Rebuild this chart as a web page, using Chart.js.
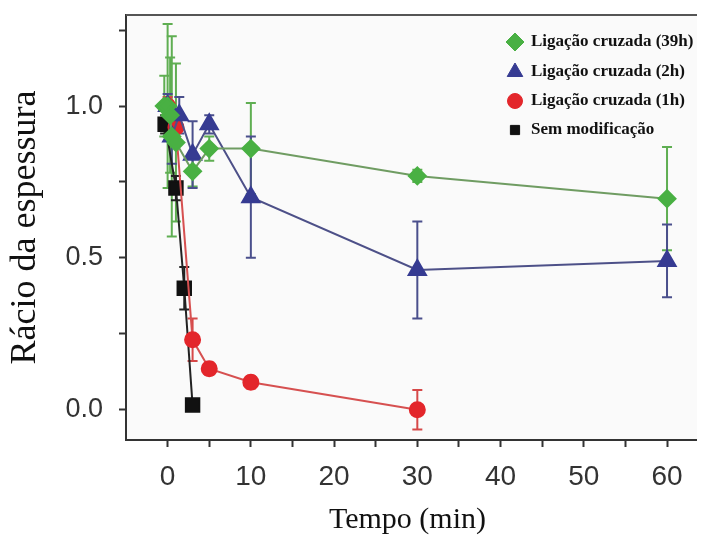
<!DOCTYPE html>
<html>
<head>
<meta charset="utf-8">
<script src="https://cdn.jsdelivr.net/npm/chart.js@4"></script>
<style>
  html, body { margin: 0; padding: 0; background: #ffffff; }
  canvas { display: block; }
</style>
</head>
<body>
<canvas id="chart" width="701" height="538"></canvas>
<script>
// Dados
const seriesLabels = ["Ligação cruzada (39h)", "Ligação cruzada (2h)", "Ligação cruzada (1h)", "Sem modificação"];

const greenX = [-0.4, 0, 0.3, 0.5, 1, 3, 5, 10, 30, 60];
const greenY = [1.0, 1.0, 0.97, 0.9, 0.88, 0.785, 0.86, 0.86, 0.77, 0.695];
const greenErr = [0.1, 0.27, 0.19, 0.33, 0.26, 0.05, 0.04, 0.15, 0.02, 0.17];

const blueX = [0, 0.5, 1.4, 3, 5, 10, 30, 60];
const blueY = [1.0, 0.9, 0.97, 0.84, 0.94, 0.7, 0.46, 0.49];
const blueErr = [0.04, 0.09, 0.06, 0.11, 0.03, 0.2, 0.16, 0.12];

const redX = [0, 1, 3, 5, 10, 30];
const redY = [1.0, 0.93, 0.23, 0.135, 0.09, 0.0];
const redErr = [0.03, 0.05, 0.07, 0.02, 0.02, 0.065];

const blackX = [-0.3, 1, 2, 3];
const blackY = [0.94, 0.73, 0.4, 0.015];
const blackErr = [0.03, 0.04, 0.07, 0.0];

const xTickValues = [0, 5, 10, 15, 20, 25, 30, 35, 40, 45, 50, 55, 60];
const xTickLabels = ["0", "", "10", "", "20", "", "30", "", "40", "", "50", "", "60"];
const yTickValues = [0, 0.25, 0.5, 0.75, 1.0, 1.25];
const yTickLabels = ["0.0", "", "0.5", "", "1.0", ""];

function toPoints(xs, ys) {
  return xs.map((x, i) => ({ x: x, y: ys[i] }));
}

function tickLabel(values, labels, v) {
  const i = values.findIndex((t) => Math.abs(t - v) < 1e-6);
  return i >= 0 ? labels[i] : "";
}

// fundo da área do gráfico, moldura superior e prolongamento do eixo x
const framePlugin = {
  id: "frame",
  beforeDraw(chart) {
    const { ctx, chartArea } = chart;
    ctx.save();
    ctx.fillStyle = "#fafafa";
    ctx.fillRect(chartArea.left, chartArea.top, chart.width - 4 - chartArea.left, chartArea.bottom - chartArea.top);
    ctx.restore();
  },
  afterDraw(chart) {
    const { ctx, chartArea } = chart;
    const edge = chart.width - 4;
    ctx.save();
    ctx.lineWidth = 2;
    ctx.strokeStyle = "#555555";
    ctx.beginPath();
    ctx.moveTo(chartArea.left, chartArea.top);
    ctx.lineTo(edge, chartArea.top);
    ctx.stroke();
    ctx.strokeStyle = "#333333";
    ctx.beginPath();
    ctx.moveTo(chartArea.right - 1, chartArea.bottom);
    ctx.lineTo(edge, chartArea.bottom);
    ctx.stroke();
    ctx.restore();
  },
};

// barras de erro
const errorBarPlugin = {
  id: "errorBars",
  beforeDatasetsDraw(chart) {
    const { ctx, scales } = chart;
    ctx.save();
    chart.data.datasets.forEach((ds) => {
      ctx.strokeStyle = ds.errorColor;
      ctx.lineWidth = 2;
      ds.data.forEach((p, i) => {
        const e = ds.errors[i];
        if (!e) return;
        const px = scales.x.getPixelForValue(p.x);
        const top = scales.y.getPixelForValue(p.y + e);
        const bot = scales.y.getPixelForValue(p.y - e);
        ctx.beginPath();
        ctx.moveTo(px, top);
        ctx.lineTo(px, bot);
        ctx.moveTo(px - 5, top);
        ctx.lineTo(px + 5, top);
        ctx.moveTo(px - 5, bot);
        ctx.lineTo(px + 5, bot);
        ctx.stroke();
      });
    });
    ctx.restore();
  },
};

// legenda dentro da área do gráfico
const insideLegendPlugin = {
  id: "insideLegend",
  afterDraw(chart) {
    const { ctx } = chart;
    const rows = [42, 72, 101, 130];
    ctx.save();
    chart.data.datasets.forEach((ds, i) => {
      const y = rows[i];
      ctx.fillStyle = ds.pointBackgroundColor;
      ctx.strokeStyle = ds.pointBorderColor;
      ctx.lineWidth = 1;
      Chart.helpers.drawPoint(ctx, {
        pointStyle: ds.pointStyle,
        radius: ds.legendRadius,
        rotation: 0,
        borderWidth: 1,
      }, 515, y);
      ctx.fillStyle = "#111111";
      ctx.font = "bold 17px 'Liberation Serif', 'Times New Roman', serif";
      ctx.textAlign = "left";
      ctx.textBaseline = "middle";
      ctx.fillText(ds.label, 531, y);
    });
    ctx.restore();
  },
};

const ctx = document.getElementById("chart").getContext("2d");
new Chart(ctx, {
  type: "line",
  data: {
    datasets: [
      {
        label: seriesLabels[0],
        data: toPoints(greenX, greenY),
        errors: greenErr,
        errorColor: "#5fae52",
        borderColor: "#6f9c62",
        borderWidth: 2,
        pointStyle: "rectRot",
        pointRadius: 8.5,
        legendRadius: 9,
        pointBackgroundColor: "#49b043",
        pointBorderColor: "#49b043",
      },
      {
        label: seriesLabels[1],
        data: toPoints(blueX, blueY),
        errors: blueErr,
        errorColor: "#4a4f8c",
        borderColor: "#4d5088",
        borderWidth: 2,
        pointStyle: "triangle",
        pointRadius: 10,
        legendRadius: 9,
        pointBackgroundColor: "#363b92",
        pointBorderColor: "#363b92",
      },
      {
        label: seriesLabels[2],
        data: toPoints(redX, redY),
        errors: redErr,
        errorColor: "#d64848",
        borderColor: "#d65050",
        borderWidth: 2,
        pointStyle: "circle",
        pointRadius: 7.5,
        legendRadius: 7.5,
        pointBackgroundColor: "#e3262b",
        pointBorderColor: "#e3262b",
      },
      {
        label: seriesLabels[3],
        data: toPoints(blackX, blackY),
        errors: blackErr,
        errorColor: "#222222",
        borderColor: "#222222",
        borderWidth: 2,
        pointStyle: "rect",
        pointRadius: 9.5,
        legendRadius: 6.5,
        pointBackgroundColor: "#111111",
        pointBorderColor: "#111111",
      },
    ],
  },
  options: {
    responsive: false,
    animation: false,
    devicePixelRatio: 1,
    layout: { padding: { left: 0, top: 15, right: 4, bottom: 0 } },
    plugins: {
      legend: { display: false },
      tooltip: { enabled: false },
    },
    scales: {
      x: {
        type: "linear",
        min: -5,
        max: 62.64,
        afterBuildTicks: (scale) => {
          scale.ticks = xTickValues.map((v) => ({ value: v }));
        },
        afterFit: (scale) => {
          scale.height = 98;
        },
        ticks: {
          autoSkip: false,
          maxRotation: 0,
          padding: 13,
          color: "#333333",
          font: { family: "'Liberation Sans', Arial, sans-serif", size: 28 },
          callback: (v) => tickLabel(xTickValues, xTickLabels, v),
        },
        grid: { drawOnChartArea: false, drawTicks: true, tickLength: 7, tickWidth: 2, color: "#333333" },
        border: { display: true, color: "#333333", width: 2 },
        title: {
          display: true,
          text: "Tempo (min)",
          color: "#111111",
          font: { family: "'Liberation Serif', 'Times New Roman', serif", size: 30 },
          padding: { top: 0, bottom: 0 },
        },
      },
      y: {
        type: "linear",
        min: -0.1,
        max: 1.3,
        afterBuildTicks: (scale) => {
          scale.ticks = yTickValues.map((v) => ({ value: v }));
        },
        afterFit: (scale) => {
          scale.width = 126;
          scale.paddingTop = 0;
          scale.paddingBottom = 0;
        },
        ticks: {
          autoSkip: false,
          padding: 16,
          color: "#333333",
          font: { family: "'Liberation Sans', Arial, sans-serif", size: 27 },
          callback: (v) => tickLabel(yTickValues, yTickLabels, v),
        },
        grid: { drawOnChartArea: false, drawTicks: true, tickLength: 7, tickWidth: 2, color: "#333333" },
        border: { display: true, color: "#333333", width: 2 },
        title: {
          display: true,
          text: "Rácio da espessura",
          color: "#111111",
          font: { family: "'Liberation Serif', 'Times New Roman', serif", size: 36 },
          padding: { top: 4, bottom: 0 },
        },
      },
    },
  },
  plugins: [framePlugin, errorBarPlugin, insideLegendPlugin],
});
</script>
</body>
</html>
